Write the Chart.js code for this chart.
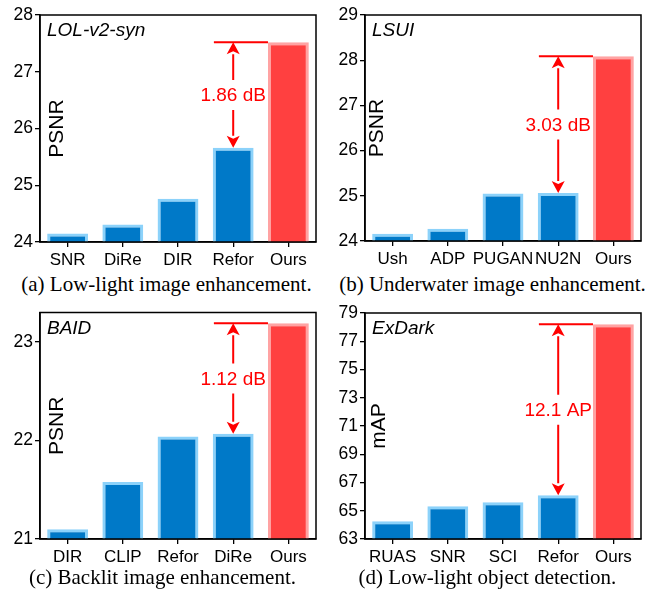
<!DOCTYPE html>
<html>
<head>
<meta charset="utf-8">
<script src="https://cdn.jsdelivr.net/npm/chart.js@4.4.0/dist/chart.umd.min.js"></script>
<style>
  body { margin: 0; background: #fff; }
  #wrap { position: relative; width: 650px; height: 591px; }
  .panel { position: absolute; width: 325px; height: 270px; }
  .cap { position: absolute; width: 325px; text-align: center; font-family: 'Liberation Serif', 'Times New Roman', serif; font-size: 21px; color: #000; white-space: nowrap; }
</style>
</head>
<body>
<div id="wrap">
  <div class="panel" style="left:0;top:0"><canvas id="cA" width="325" height="270"></canvas></div>
  <div class="panel" style="left:325px;top:0"><canvas id="cB" width="325" height="270"></canvas></div>
  <div class="panel" style="left:0;top:300px"><canvas id="cC" width="325" height="270"></canvas></div>
  <div class="panel" style="left:325px;top:300px"><canvas id="cD" width="325" height="270"></canvas></div>
  <div class="cap" style="left:4px;top:272px">(a) Low-light image enhancement.</div>
  <div class="cap" style="left:330px;top:272px">(b) Underwater image enhancement.</div>
  <div class="cap" style="left:0;top:565px">(c) Backlit image enhancement.</div>
  <div class="cap" style="left:325px;top:565px">(d) Low-light object detection.</div>
</div>
<script>
// data
const catsA = ['SNR', 'DiRe', 'DIR', 'Refor', 'Ours'];
const psnrA = [24.15, 24.31, 24.76, 25.66, 27.52];
const ticksA = [24, 25, 26, 27, 28];

const catsB = ['Ush', 'ADP', 'PUGAN', 'NU2N', 'Ours'];
const psnrB = [24.16, 24.27, 25.05, 25.06, 28.09];
const ticksB = [24, 25, 26, 27, 28, 29];

const catsC = ['DIR', 'CLIP', 'Refor', 'DiRe', 'Ours'];
const psnrC = [21.10, 21.58, 22.04, 22.07, 23.19];
const ticksC = [21, 22, 23];

const catsD = ['RUAS', 'SNR', 'SCI', 'Refor', 'Ours'];
const mapD = [64.25, 65.31, 65.61, 66.1, 78.2];
const ticksD = [63, 65, 67, 69, 71, 73, 75, 77, 79];

Chart.defaults.font.family = "'Liberation Sans', Arial, sans-serif";
Chart.defaults.color = '#000';

const BLUE = '#0079C8', BLUE_EDGE = '#8CD2FA';
const RED = '#FF4040', RED_EDGE = '#FFA3A3';

// frame, inner title, y label and the gap arrow
const decor = {
  id: 'decor',
  afterDatasetsDraw(chart, args, o) {
    const ctx = chart.ctx, a = chart.chartArea;
    const xs = chart.scales.x, ys = chart.scales.y;
    const vals = chart.data.datasets[0].data;
    ctx.save();
    ctx.strokeStyle = '#000';
    ctx.lineWidth = 1.5;
    ctx.strokeRect(a.left, a.top, a.right - a.left, a.bottom - a.top);

    ctx.fillStyle = '#000';
    ctx.font = "italic 19px 'Liberation Sans', Arial, sans-serif";
    ctx.textBaseline = 'middle';
    ctx.textAlign = 'left';
    ctx.fillText(o.title, a.left + 7, a.top + 16);

    ctx.save();
    ctx.translate(a.left + o.labelDx, (a.top + a.bottom) / 2);
    ctx.rotate(-Math.PI / 2);
    ctx.textAlign = 'center';
    ctx.font = "21px 'Liberation Sans', Arial, sans-serif";
    ctx.fillText(o.ylabel, 0, 0);
    ctx.restore();

    const bi = o.from, last = vals.length - 1;
    const step = xs.getPixelForValue(1) - xs.getPixelForValue(0);
    const ax = xs.getPixelForValue(bi);
    const yTop = ys.getPixelForValue(vals[last]);
    const yBot = ys.getPixelForValue(vals[bi]);
    const bar = chart.getDatasetMeta(0).data[last];
    const mid = (yTop + yBot) / 2;
    const head = 12, hw = 6.5, gap = 15;

    ctx.strokeStyle = 'red';
    ctx.fillStyle = 'red';
    ctx.lineWidth = 2;
    ctx.beginPath();
    ctx.moveTo(ax - 0.35 * step, yTop);
    ctx.lineTo(bar.x - bar.width / 2, yTop);
    ctx.moveTo(ax, yTop + head);
    ctx.lineTo(ax, mid - gap);
    ctx.moveTo(ax, mid + gap);
    ctx.lineTo(ax, yBot - head);
    ctx.stroke();

    ctx.beginPath();
    ctx.moveTo(ax, yTop);
    ctx.lineTo(ax - hw, yTop + head);
    ctx.lineTo(ax, yTop + head - 3);
    ctx.lineTo(ax + hw, yTop + head);
    ctx.closePath();
    ctx.fill();
    ctx.beginPath();
    ctx.moveTo(ax, yBot);
    ctx.lineTo(ax - hw, yBot - head);
    ctx.lineTo(ax, yBot - head + 3);
    ctx.lineTo(ax + hw, yBot - head);
    ctx.closePath();
    ctx.fill();

    ctx.font = "19px 'Liberation Sans', Arial, sans-serif";
    ctx.textAlign = 'center';
    ctx.textBaseline = 'middle';
    ctx.fillText(o.gapText, ax, mid + 1);
    ctx.restore();
  }
};

function makeChart(id, cats, vals, ticks, yMin, yMax, top, bottom, opts) {
  const H = 270;
  return new Chart(document.getElementById(id), {
    type: 'bar',
    data: {
      labels: cats,
      datasets: [{
        data: vals,
        backgroundColor: cats.map((c, i) => i === cats.length - 1 ? RED : BLUE),
        borderColor: cats.map((c, i) => i === cats.length - 1 ? RED_EDGE : BLUE_EDGE),
        borderWidth: 3,
        borderSkipped: 'start',
        barPercentage: 0.74,
        categoryPercentage: 1.0
      }]
    },
    options: {
      responsive: false,
      animation: false,
      events: [],
      layout: { padding: { top: top, right: 9, left: 0, bottom: 0 } },
      plugins: { legend: { display: false }, tooltip: { enabled: false }, decor: opts },
      scales: {
        x: {
          grid: { display: true, offset: false, drawOnChartArea: false, drawTicks: true, tickLength: 5, color: '#000', lineWidth: 1.3 },
          border: { display: true, color: '#000', width: 1.5 },
          ticks: { font: { size: 17 }, padding: 3, maxRotation: 0, autoSkip: false },
          afterFit: s => { s.height = H - bottom; }
        },
        y: {
          min: yMin,
          max: yMax,
          grid: { display: true, drawOnChartArea: false, drawTicks: true, tickLength: 5, color: '#000', lineWidth: 1.3 },
          border: { display: true, color: '#000', width: 1.5 },
          ticks: { font: { size: 17.5 }, padding: 2 },
          afterBuildTicks: s => { s.ticks = ticks.map(v => ({ value: v })); },
          afterFit: s => { s.width = 40; }
        }
      }
    },
    plugins: [decor]
  });
}

makeChart('cA', catsA, psnrA, ticksA, 24, 28, 15, 242, { title: 'LOL-v2-syn', ylabel: 'PSNR', labelDx: 17, from: 3, gapText: '1.86 dB' });
makeChart('cB', catsB, psnrB, ticksB, 24, 29, 15, 241, { title: 'LSUI', ylabel: 'PSNR', labelDx: 12, from: 3, gapText: '3.03 dB' });
makeChart('cC', catsC, psnrC, ticksC, 21, 23.3, 12, 239, { title: 'BAID', ylabel: 'PSNR', labelDx: 17, from: 3, gapText: '1.12 dB' });
makeChart('cD', catsD, mapD, ticksD, 63, 79, 13, 239, { title: 'ExDark', ylabel: 'mAP', labelDx: 14, from: 3, gapText: '12.1 AP' });
</script>
</body>
</html>
